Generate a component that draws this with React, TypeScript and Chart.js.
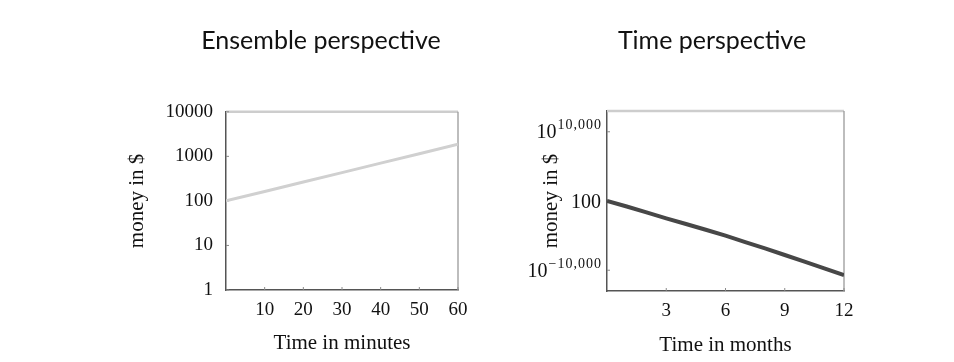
import React, { useEffect, useRef } from 'react';
import { Chart, registerables } from 'chart.js';

Chart.register(...registerables);

// ---- Left chart: ensemble perspective ----
const MINUTES = [0, 10, 20, 30, 40, 50, 60];
const ENSEMBLE_MONEY = [100, 163, 265, 432, 704, 1147, 1868];
const LEFT_Y_TICKS = [1, 10, 100, 1000, 10000];
const LEFT_X_TICKS = [10, 20, 30, 40, 50, 60];

// ---- Right chart: time perspective (values are log10 of money) ----
const MONTHS = [0, 1, 2, 3, 4, 5, 6, 7, 8, 9, 10, 11, 12];
const TIME_LOG10_MONEY = [2, -800, -1650, -2500, -3320, -4150, -5010, -5930, -6850, -7800, -8750, -9720, -10700];
const RIGHT_Y_TICKS = [10000, 2, -10000];
const RIGHT_Y_BASES = ['10', '100', '10'];
const RIGHT_Y_EXPONENTS = ['10,000', '', '\u221210,000'];
const RIGHT_X_TICKS = [3, 6, 9, 12];

const SERIF = "'Liberation Serif', 'Times New Roman', serif";
const SANS = "Lato, 'DejaVu Sans', sans-serif";
const TEXT = '#111111';

const framePlugin = {
  id: 'frame',
  beforeDatasetsDraw(chart: any) {
    const { ctx, chartArea } = chart;
    const { left, right, top, bottom } = chartArea;
    ctx.save();
    ctx.strokeStyle = '#cdcdcd';
    ctx.lineWidth = 2.5;
    ctx.beginPath();
    ctx.moveTo(left, top);
    ctx.lineTo(right, top);
    ctx.stroke();
    ctx.strokeStyle = '#9a9a9a';
    ctx.lineWidth = 1.3;
    ctx.beginPath();
    ctx.moveTo(right, top);
    ctx.lineTo(right, bottom);
    ctx.stroke();
    ctx.strokeStyle = '#8a8a8a';
    ctx.lineWidth = 1;
    const xs = chart.scales.x;
    xs.ticks.forEach((t: any) => {
      const px = xs.getPixelForValue(t.value);
      ctx.beginPath();
      ctx.moveTo(px, bottom);
      ctx.lineTo(px, bottom - 3);
      ctx.stroke();
    });
    const ys = chart.scales.y;
    ys.ticks.forEach((t: any) => {
      const py = ys.getPixelForValue(t.value);
      ctx.beginPath();
      ctx.moveTo(left, py);
      ctx.lineTo(left + 3, py);
      ctx.stroke();
    });
    ctx.restore();
  },
};

const expLabelPlugin = {
  id: 'expLabels',
  afterDraw(chart: any) {
    const { ctx, chartArea } = chart;
    const ys = chart.scales.y;
    const rightX = chartArea.left - 6;
    ctx.save();
    ctx.fillStyle = TEXT;
    ctx.textBaseline = 'alphabetic';
    ctx.textAlign = 'left';
    RIGHT_Y_TICKS.forEach((v, i) => {
      const y = ys.getPixelForValue(v);
      const base = RIGHT_Y_BASES[i];
      const exp = RIGHT_Y_EXPONENTS[i];
      ctx.font = `20px ${SERIF}`;
      (ctx as any).letterSpacing = '0px';
      const wb = ctx.measureText(base).width;
      let we = 0;
      if (exp) {
        ctx.font = `14px ${SERIF}`;
        (ctx as any).letterSpacing = '1px';
        we = ctx.measureText(exp).width;
      }
      const x0 = rightX - wb - we;
      const baseline = y + 6.6;
      ctx.font = `20px ${SERIF}`;
      (ctx as any).letterSpacing = '0px';
      ctx.fillText(base, x0, baseline);
      if (exp) {
        ctx.font = `14px ${SERIF}`;
        (ctx as any).letterSpacing = '1px';
        ctx.fillText(exp, x0 + wb + 1, baseline - 9);
      }
    });
    ctx.restore();
  },
};

function useChart(ref: React.RefObject<HTMLCanvasElement>, makeConfig: () => any) {
  useEffect(() => {
    if (!ref.current) return;
    const chart = new Chart(ref.current, makeConfig());
    return () => chart.destroy();
  }, []);
}

function leftConfig() {
  return {
    type: 'line',
    data: {
      datasets: [
        {
          data: MINUTES.map((m, i) => ({ x: m, y: ENSEMBLE_MONEY[i] })),
          borderColor: '#d0d0d0',
          borderWidth: 3,
          pointRadius: 0,
          tension: 0,
        },
      ],
    },
    plugins: [framePlugin],
    options: {
      responsive: false,
      animation: false,
      layout: { padding: { left: 74, right: 74, top: 0, bottom: 0 } },
      plugins: {
        legend: { display: false },
        tooltip: { enabled: false },
        title: {
          display: true,
          text: 'Ensemble perspective',
          color: TEXT,
          font: { family: SANS, size: 25, weight: 'normal' },
          padding: { top: 26.4, bottom: 55.4 },
        },
      },
      scales: {
        x: {
          type: 'linear',
          min: 0,
          max: 60,
          afterBuildTicks: (s: any) => {
            s.ticks = LEFT_X_TICKS.map((v) => ({ value: v }));
          },
          afterFit: (s: any) => {
            s.height = 72;
          },
          grid: { display: false, drawTicks: false },
          border: { display: true, color: '#555', width: 1.5 },
          ticks: { color: TEXT, font: { family: SERIF, size: 19 }, padding: 9, maxRotation: 0, autoSkip: false },
          title: {
            display: true,
            text: 'Time in minutes',
            color: TEXT,
            font: { family: SERIF, size: 21 },
            padding: { top: 0, bottom: 6.4 },
          },
        },
        y: {
          type: 'logarithmic',
          min: 1,
          max: 10000,
          afterBuildTicks: (s: any) => {
            s.ticks = LEFT_Y_TICKS.map((v) => ({ value: v }));
          },
          afterFit: (s: any) => {
            s.width = 42;
            // let the tick labels extend past the narrow scale box (no clipping)
            s._computeLabelArea = () => undefined;
          },
          grid: { display: false, drawTicks: false },
          border: { display: true, color: '#555', width: 1.5 },
          ticks: {
            color: TEXT,
            font: { family: SERIF, size: 19 },
            padding: 13,
            autoSkip: false,
            callback: (v: any) => String(v),
          },
          title: {
            display: true,
            text: 'money in $',
            color: TEXT,
            font: { family: SERIF, size: 21 },
            padding: { top: -59.6, bottom: 0 },
          },
        },
      },
    },
  };
}

function rightConfig() {
  return {
    type: 'line',
    data: {
      datasets: [
        {
          data: MONTHS.map((m, i) => ({ x: m, y: TIME_LOG10_MONEY[i] })),
          borderColor: '#474747',
          borderWidth: 4,
          pointRadius: 0,
          tension: 0,
        },
      ],
    },
    plugins: [framePlugin, expLabelPlugin],
    options: {
      responsive: false,
      animation: false,
      layout: { padding: { left: 65, right: 65, top: 0, bottom: 0 } },
      plugins: {
        legend: { display: false },
        tooltip: { enabled: false },
        title: {
          display: true,
          text: 'Time perspective',
          color: TEXT,
          font: { family: SANS, size: 25, weight: 'normal' },
          padding: { top: 26.4, bottom: 54.6 },
        },
      },
      scales: {
        x: {
          type: 'linear',
          min: 0,
          max: 12,
          afterBuildTicks: (s: any) => {
            s.ticks = RIGHT_X_TICKS.map((v) => ({ value: v }));
          },
          afterFit: (s: any) => {
            s.height = 71;
          },
          grid: { display: false, drawTicks: false },
          border: { display: true, color: '#555', width: 1.5 },
          ticks: { color: TEXT, font: { family: SERIF, size: 19 }, padding: 9, maxRotation: 0, autoSkip: false },
          title: {
            display: true,
            text: 'Time in months',
            color: TEXT,
            font: { family: SERIF, size: 21 },
            padding: { top: 0, bottom: 4.4 },
          },
        },
        y: {
          type: 'linear',
          min: -13000,
          max: 13000,
          afterBuildTicks: (s: any) => {
            s.ticks = RIGHT_Y_TICKS.map((v) => ({ value: v }));
          },
          afterFit: (s: any) => {
            s.width = 27;
          },
          grid: { display: false, drawTicks: false },
          border: { display: true, color: '#555', width: 1.5 },
          ticks: { display: false },
          title: {
            display: true,
            text: 'money in $',
            color: TEXT,
            font: { family: SERIF, size: 21 },
            padding: { top: -41, bottom: 0 },
          },
        },
      },
    },
  };
}

export default function App() {
  const leftRef = useRef<HTMLCanvasElement>(null);
  const rightRef = useRef<HTMLCanvasElement>(null);
  useChart(leftRef, leftConfig);
  useChart(rightRef, rightConfig);
  return (
    <div
      style={{
        position: 'absolute',
        left: 0,
        top: 0,
        width: 954,
        height: 362,
        background: '#ffffff',
        overflow: 'hidden',
      }}
    >
      <canvas ref={leftRef} width={422} height={362} style={{ position: 'absolute', left: 110, top: 0 }} />
      <canvas ref={rightRef} width={394} height={362} style={{ position: 'absolute', left: 515, top: 0 }} />
    </div>
  );
}
